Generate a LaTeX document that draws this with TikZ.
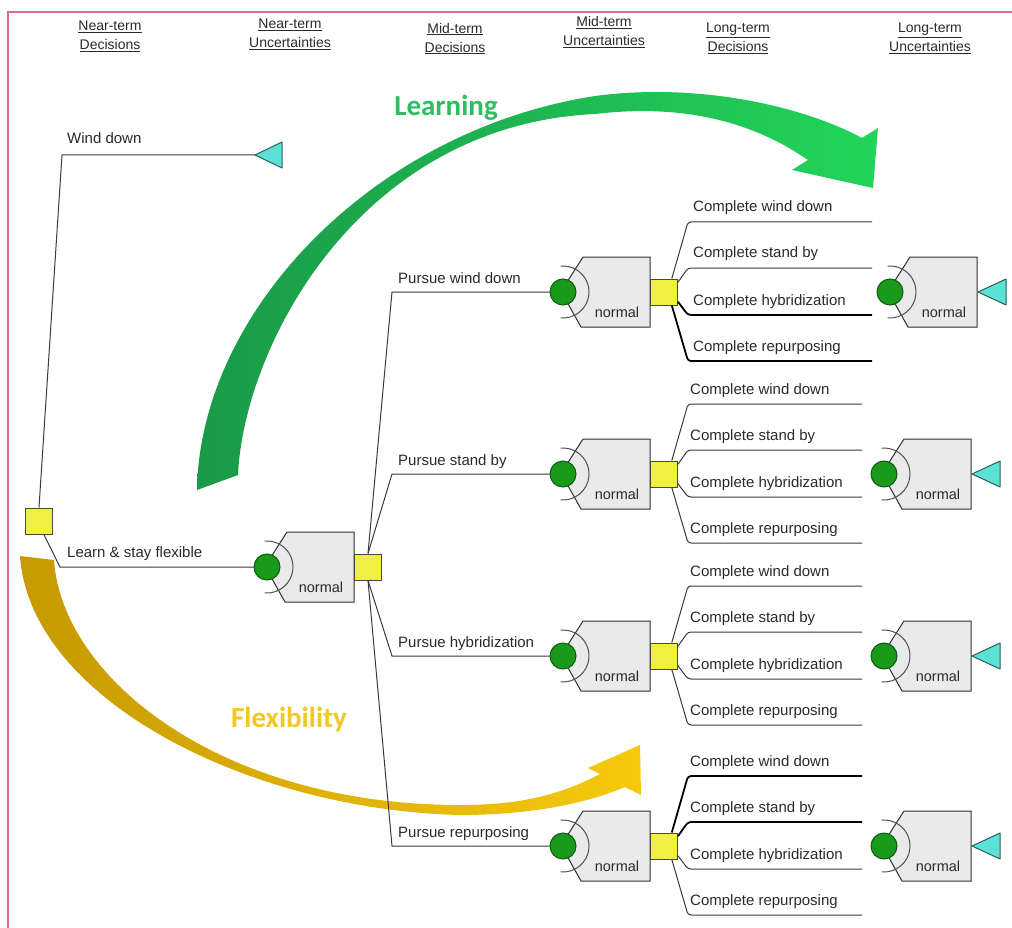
\documentclass[tikz,border=0pt]{standalone}
\usepackage{fontspec}
\setmainfont{Liberation Sans}
\newfontfamily\carlito{Carlito}

\definecolor{linegray}{HTML}{3A3A3A}
\definecolor{txtgray}{HTML}{2A2A2A}
\definecolor{decyellow}{HTML}{F0F040}
\definecolor{decedge}{HTML}{4A4A30}
\definecolor{chgreen}{HTML}{1A9A1A}
\definecolor{chedge}{HTML}{0E5A0E}
\definecolor{boxfill}{HTML}{EAEAEA}
\definecolor{boxedge}{HTML}{2E2E2E}
\definecolor{arcgray}{HTML}{505050}
\definecolor{termfill}{HTML}{5CE1D6}
\definecolor{termedge}{HTML}{2B5F5C}
\definecolor{lrndark}{HTML}{1A9A48}
\definecolor{lrnlight}{HTML}{22D45A}
\definecolor{lrntext}{HTML}{2DBE61}
\definecolor{flxdark}{HTML}{C69A00}
\definecolor{flxlight}{HTML}{F6C90E}
\definecolor{flxtext}{HTML}{F2C623}
\definecolor{framecol}{HTML}{D9707F}

\tikzset{
  branch/.style={draw=linegray, line width=1pt},
  heavy/.style={draw=black, line width=1.8pt},
  dec/.style={rectangle, draw=decedge, fill=decyellow, line width=1pt,
    minimum width=27pt, minimum height=26pt, inner sep=0pt},
  chance/.style={circle, draw=chedge, fill=chgreen, line width=1pt,
    minimum size=26pt, inner sep=0pt},
  ubox/.style={fill=boxfill, draw=boxedge, line width=1pt},
  uarc/.style={draw=arcgray, line width=1pt},
  term/.style={fill=termfill, draw=termedge, line width=1pt, line join=round},
  lbl/.style={font=\fontsize{15}{18}\selectfont, text=txtgray, inner sep=0pt, anchor=base west},
  normtxt/.style={font=\fontsize{14.5}{17}\selectfont, text=txtgray, inner sep=0pt},
  head/.style={font=\fontsize{14}{19}\selectfont, text=txtgray, align=center, inner sep=0pt},
  bigword/.style={font=\carlito\bfseries\fontsize{29}{32}\selectfont, inner sep=0pt}
}

% uncertainty node: name, x, y
\newcommand{\uncbox}[3]{%
  \begin{scope}[shift={(#2,#3)}]
    \filldraw[ubox] (20,-35) -- (87,-35) -- (87,35) -- (18,35) -- (4,10) -- (4,-10) -- cycle;
    \draw[uarc] (95:26) arc (95:-95:26);
    \node[chance] (#1) at (0,0) {};
    \node[normtxt] (#1n) at (54,20) {normal};
  \end{scope}}

\begin{document}
\begin{tikzpicture}[x=1pt,y=-1pt]
\useasboundingbox (0,0) rectangle (1012,928);
\draw[framecol, line width=1.5pt] (8,928) -- (8,12) -- (1012,12);

% column heads
\node[head] (h1) at (110,36.5) {\underline{Near-term}\\\underline{Decisions}};
\node[head] (h2) at (290,34) {\underline{Near-term}\\\underline{Uncertainties}};
\node[head] (h3) at (455,38.5) {\underline{Mid-term}\\\underline{Decisions}};
\node[head] (h4) at (604,32) {\underline{Mid-term}\\\underline{Uncertainties}};
\node[head] (h5) at (738,38.5) {\underline{Long-term}\\\underline{Decisions}};
\node[head] (h6) at (930,38.5) {\underline{Long-term}\\\underline{Uncertainties}};

% big arrows
\shade[left color=lrndark, right color=lrnlight]
  (197,490) .. controls (200,310) and (375,130) .. (595,96)
  .. controls (700,82) and (805,107) .. (862,138)
  -- (878,128) -- (873,188) -- (792,170) -- (808,160)
  .. controls (750,120) and (680,104) .. (595,114)
  .. controls (360,125) and (244,345) .. (238,475) -- cycle;
\node[bigword, text=lrntext] (learn) at (446,108) {Learning};

\shade[left color=flxdark, right color=flxlight]
  (20,556) .. controls (30,700) and (250,810) .. (460,815)
  .. controls (540,815) and (595,800) .. (625,787)
  -- (641,795) -- (640,745) -- (588,768) -- (600,774)
  .. controls (560,795) and (520,805) .. (460,805)
  .. controls (222,805) and (62,679) .. (54,560) -- cycle;
\node[bigword, text=flxtext] (flex) at (289,720) {Flexibility};

% near-term decision
\node[dec] (root) at (39,521) {};
\coordinate (wd) at (62,155);
\coordinate (wdend) at (255,155);
\draw[branch] (root.north) -- (wd) -- (wdend);
\filldraw[term] (wdend) -- ++(27,-13) -- ++(0,26) -- cycle;
\node[lbl] (lwd) at (67,144) {Wind down};

\coordinate (lf) at (60,567);
\uncbox{u0}{267}{567}
\draw[branch] (root.-70) -- (lf) -- (u0);
\node[lbl] (llf) at (67,557) {Learn \& stay flexible};
\node[dec] (sq0) at (368,567) {};

% mid-term and long-term stages
\foreach \i/\cy/\anc/\act/\lx/\ex/\rx in {
    1/292/north/Pursue wind down/693/872/890,
    2/474/north/Pursue stand by/690/862/884,
    3/656/south/Pursue hybridization/690/862/884,
    4/846/south/Pursue repurposing/690/862/884}{
  \coordinate (b\i) at (392,\cy);
  \uncbox{u\i}{563}{\cy}
  \draw[branch] (sq0.\anc) -- (b\i) -- (u\i);
  \node[lbl] (a\i) at (398,\cy-9) {\act};
  \node[dec] (s\i) at (664,\cy) {};
  \foreach \j/\dy/\ang/\opt in {1/-70/60/Complete wind down,
      2/-24/35/Complete stand by, 3/23/-35/Complete hybridization,
      4/69/-60/Complete repurposing}{
    \pgfmathtruncatemacro\hl{((\i==1)&&(\j>2))||((\i==4)&&(\j<3))}
    \ifnum\hl=1 \def\wt{heavy}\else\def\wt{branch}\fi
    \coordinate (c\i\j) at (688,\cy+\dy);
    \coordinate (e\i\j) at (\ex,\cy+\dy);
    \draw[\wt, rounded corners=3pt] (s\i.\ang) -- (c\i\j) -- (e\i\j);
    \node[lbl] (t\i\j) at (\lx,\cy+\dy-10) {\opt};
  }
  \uncbox{r\i}{\rx}{\cy}
  \coordinate (z\i) at (\rx+88,\cy);
  \filldraw[term] (z\i) -- ++(28,-13) -- ++(0,26) -- cycle;
}
\end{tikzpicture}
\end{document}
